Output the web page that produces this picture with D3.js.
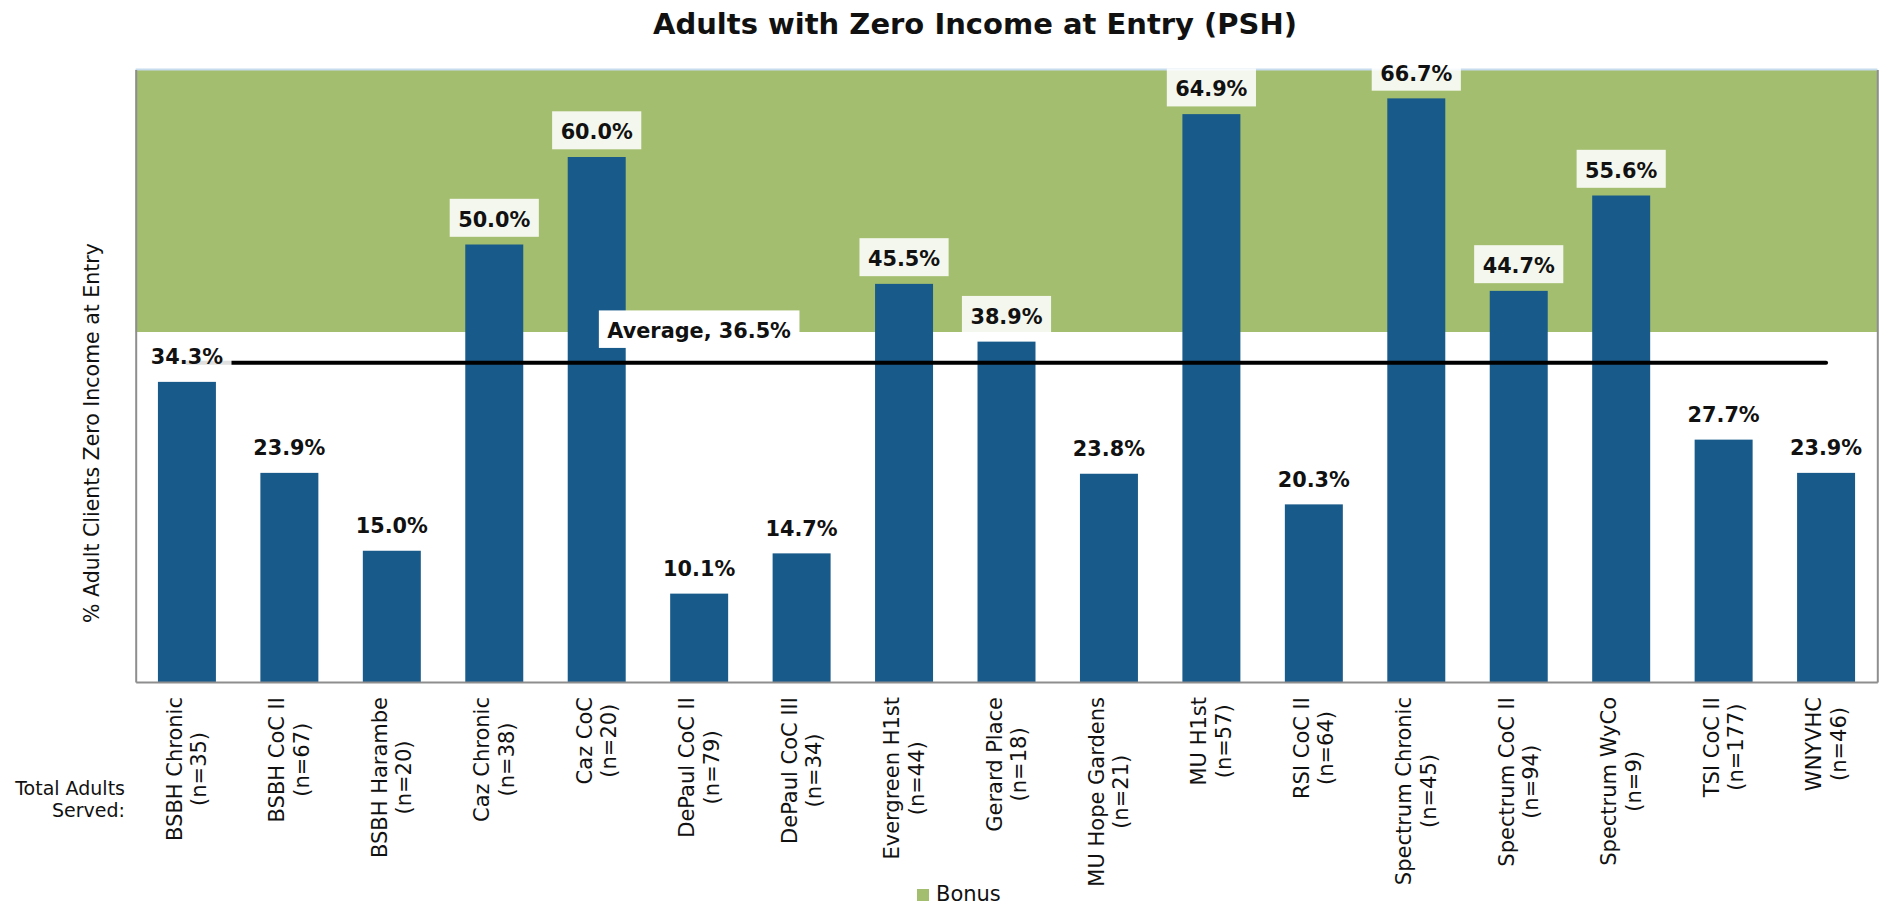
<!DOCTYPE html>
<html>
<head>
<meta charset="utf-8">
<script src="https://cdn.jsdelivr.net/npm/d3@7"></script>
<style>
    body { margin: 0; background: #fff; }
    text { font-family: 'DejaVu Sans', sans-serif; fill: #111; }
</style>
</head>
<body>
<div id="chart"></div>
<script>
const programs = ['BSBH Chronic', 'BSBH CoC II', 'BSBH Harambe', 'Caz Chronic', 'Caz CoC',
    'DePaul CoC II', 'DePaul CoC III', 'Evergreen H1st', 'Gerard Place', 'MU Hope Gardens',
    'MU H1st', 'RSI CoC II', 'Spectrum Chronic', 'Spectrum CoC II', 'Spectrum WyCo',
    'TSI CoC II', 'WNYVHC']
const served = [35, 67, 20, 38, 20, 79, 34, 44, 18, 21, 57, 64, 45, 94, 9, 177, 46]
const zeroIncome = [34.3, 23.9, 15.0, 50.0, 60.0, 10.1, 14.7, 45.5, 38.9, 23.8, 64.9, 20.3, 66.7, 44.7, 55.6, 27.7, 23.9]
const average = 36.5
const bonusRange = [40, 70]
const yDomain = [0, 70]

const width = 1883
const height = 908
const margin = { left: 135.7, right: 5.7, top: 69.5, bottom: 226 }

const svg = d3.select('#chart')
    .append('svg')
    .attr('width', width)
    .attr('height', height)

const xScale = d3.scaleBand()
    .domain(programs)
    .range([margin.left, width - margin.right])
    .paddingInner(0.434)
    .paddingOuter(0.217)

const yScale = d3.scaleLinear()
    .domain(yDomain)
    .range([height - margin.bottom, margin.top])

const cx = d => xScale(d) + xScale.bandwidth() / 2

//bonus band
svg.append('rect')
    .attr('x', margin.left)
    .attr('y', yScale(bonusRange[1]))
    .attr('width', width - margin.right - margin.left)
    .attr('height', yScale(bonusRange[0]) - yScale(bonusRange[1]))
    .style('fill', '#A3BE6F')

svg.append('line')
    .attr('x1', margin.left)
    .attr('x2', width - margin.right)
    .attr('y1', yScale(bonusRange[1]))
    .attr('y2', yScale(bonusRange[1]))
    .attr('stroke', '#C7DCEE')
    .attr('stroke-width', 2)

//bars
svg.selectAll('.bar')
    .data(programs)
    .enter()
    .append('rect')
    .attr('class', 'bar')
    .attr('x', d => xScale(d))
    .attr('width', xScale.bandwidth())
    .attr('y', (d, i) => yScale(zeroIncome[i]))
    .attr('height', (d, i) => yScale(0) - yScale(zeroIncome[i]))
    .style('fill', '#185A8A')

//axes (domain lines only)
const axisStyle = g => {
    g.select('.domain').attr('stroke', '#8E8E8E').attr('stroke-width', 2)
    g.selectAll('.tick').remove()
}
svg.append('g')
    .attr('transform', 'translate(0,' + yScale(0) + ')')
    .call(d3.axisBottom(xScale).tickSizeOuter(0))
    .call(axisStyle)
svg.append('g')
    .attr('transform', 'translate(' + margin.left + ',0)')
    .call(d3.axisLeft(yScale).tickSizeOuter(0))
    .call(axisStyle)
svg.append('g')
    .attr('transform', 'translate(' + (width - margin.right) + ',0)')
    .call(d3.axisRight(yScale).tickSizeOuter(0))
    .call(axisStyle)

//average line
const avgLine = d3.line()
    .x(d => cx(d))
    .y(() => yScale(average))
svg.append('path')
    .datum([programs[0], programs[programs.length - 1]])
    .attr('d', avgLine)
    .attr('stroke', '#000')
    .attr('stroke-width', 4)
    .attr('stroke-linecap', 'round')
    .attr('fill', 'none')

//average label
const avgG = svg.append('g')
const avgText = avgG.append('text')
    .attr('x', cx(programs[5]))
    .attr('y', yScale(average) - 24.7)
    .attr('text-anchor', 'middle')
    .style('font-size', '20.8px')
    .style('font-weight', 'bold')
    .text('Average, ' + average.toFixed(1) + '%')
const avgLen = avgText.node().getComputedTextLength()
avgG.insert('rect', 'text')
    .attr('x', cx(programs[5]) - avgLen / 2 - 8.5)
    .attr('y', yScale(average) - 24.7 - 27.5)
    .attr('width', avgLen + 17)
    .attr('height', 37.5)
    .style('fill', '#fff')

//value labels
programs.forEach((p, i) => {
    const g = svg.append('g')
    const base = yScale(zeroIncome[i]) - 17.7
    const t = g.append('text')
        .attr('x', cx(p))
        .attr('y', base)
        .attr('text-anchor', 'middle')
        .style('font-size', '20.8px')
        .style('font-weight', 'bold')
        .text(zeroIncome[i].toFixed(1) + '%')
    const len = t.node().getComputedTextLength()
    g.insert('rect', 'text')
        .attr('x', cx(p) - len / 2 - 8.5)
        .attr('y', base - 28)
        .attr('width', len + 17)
        .attr('height', 38)
        .style('fill', '#fff')
        .style('opacity', 0.88)
})

//category labels, two lines, rotated
programs.forEach((p, i) => {
    const g = svg.append('g')
        .attr('transform', 'translate(' + cx(p) + ',' + (yScale(0) + 15) + ') rotate(-90)')
    const l1 = g.append('text')
        .attr('y', -5)
        .attr('text-anchor', 'middle')
        .style('font-size', '21px')
        .text(p)
    const l2 = g.append('text')
        .attr('y', 19.5)
        .attr('text-anchor', 'middle')
        .style('font-size', '21px')
        .text('(n=' + served[i] + ')')
    const maxLen = Math.max(l1.node().getComputedTextLength(), l2.node().getComputedTextLength())
    l1.attr('x', -maxLen / 2)
    l2.attr('x', -maxLen / 2)
})

//row label
svg.append('text')
    .attr('x', 125)
    .attr('y', 795)
    .attr('text-anchor', 'end')
    .style('font-size', '19px')
    .text('Total Adults')
svg.append('text')
    .attr('x', 125)
    .attr('y', 817)
    .attr('text-anchor', 'end')
    .style('font-size', '19px')
    .text('Served:')

//y label
svg.append('text')
    .attr('transform', 'translate(99,433) rotate(-90)')
    .attr('text-anchor', 'middle')
    .style('font-size', '20.5px')
    .text('% Adult Clients Zero Income at Entry')

//title
svg.append('text')
    .attr('x', 975)
    .attr('y', 34)
    .attr('text-anchor', 'middle')
    .style('font-size', '29px')
    .style('font-weight', 'bold')
    .text('Adults with Zero Income at Entry (PSH)')

//legend
svg.append('rect')
    .attr('x', 917)
    .attr('y', 889)
    .attr('width', 12)
    .attr('height', 12)
    .style('fill', '#A3BE6F')
svg.append('text')
    .attr('x', 936)
    .attr('y', 901)
    .style('font-size', '21px')
    .text('Bonus')
</script>
</body>
</html>
